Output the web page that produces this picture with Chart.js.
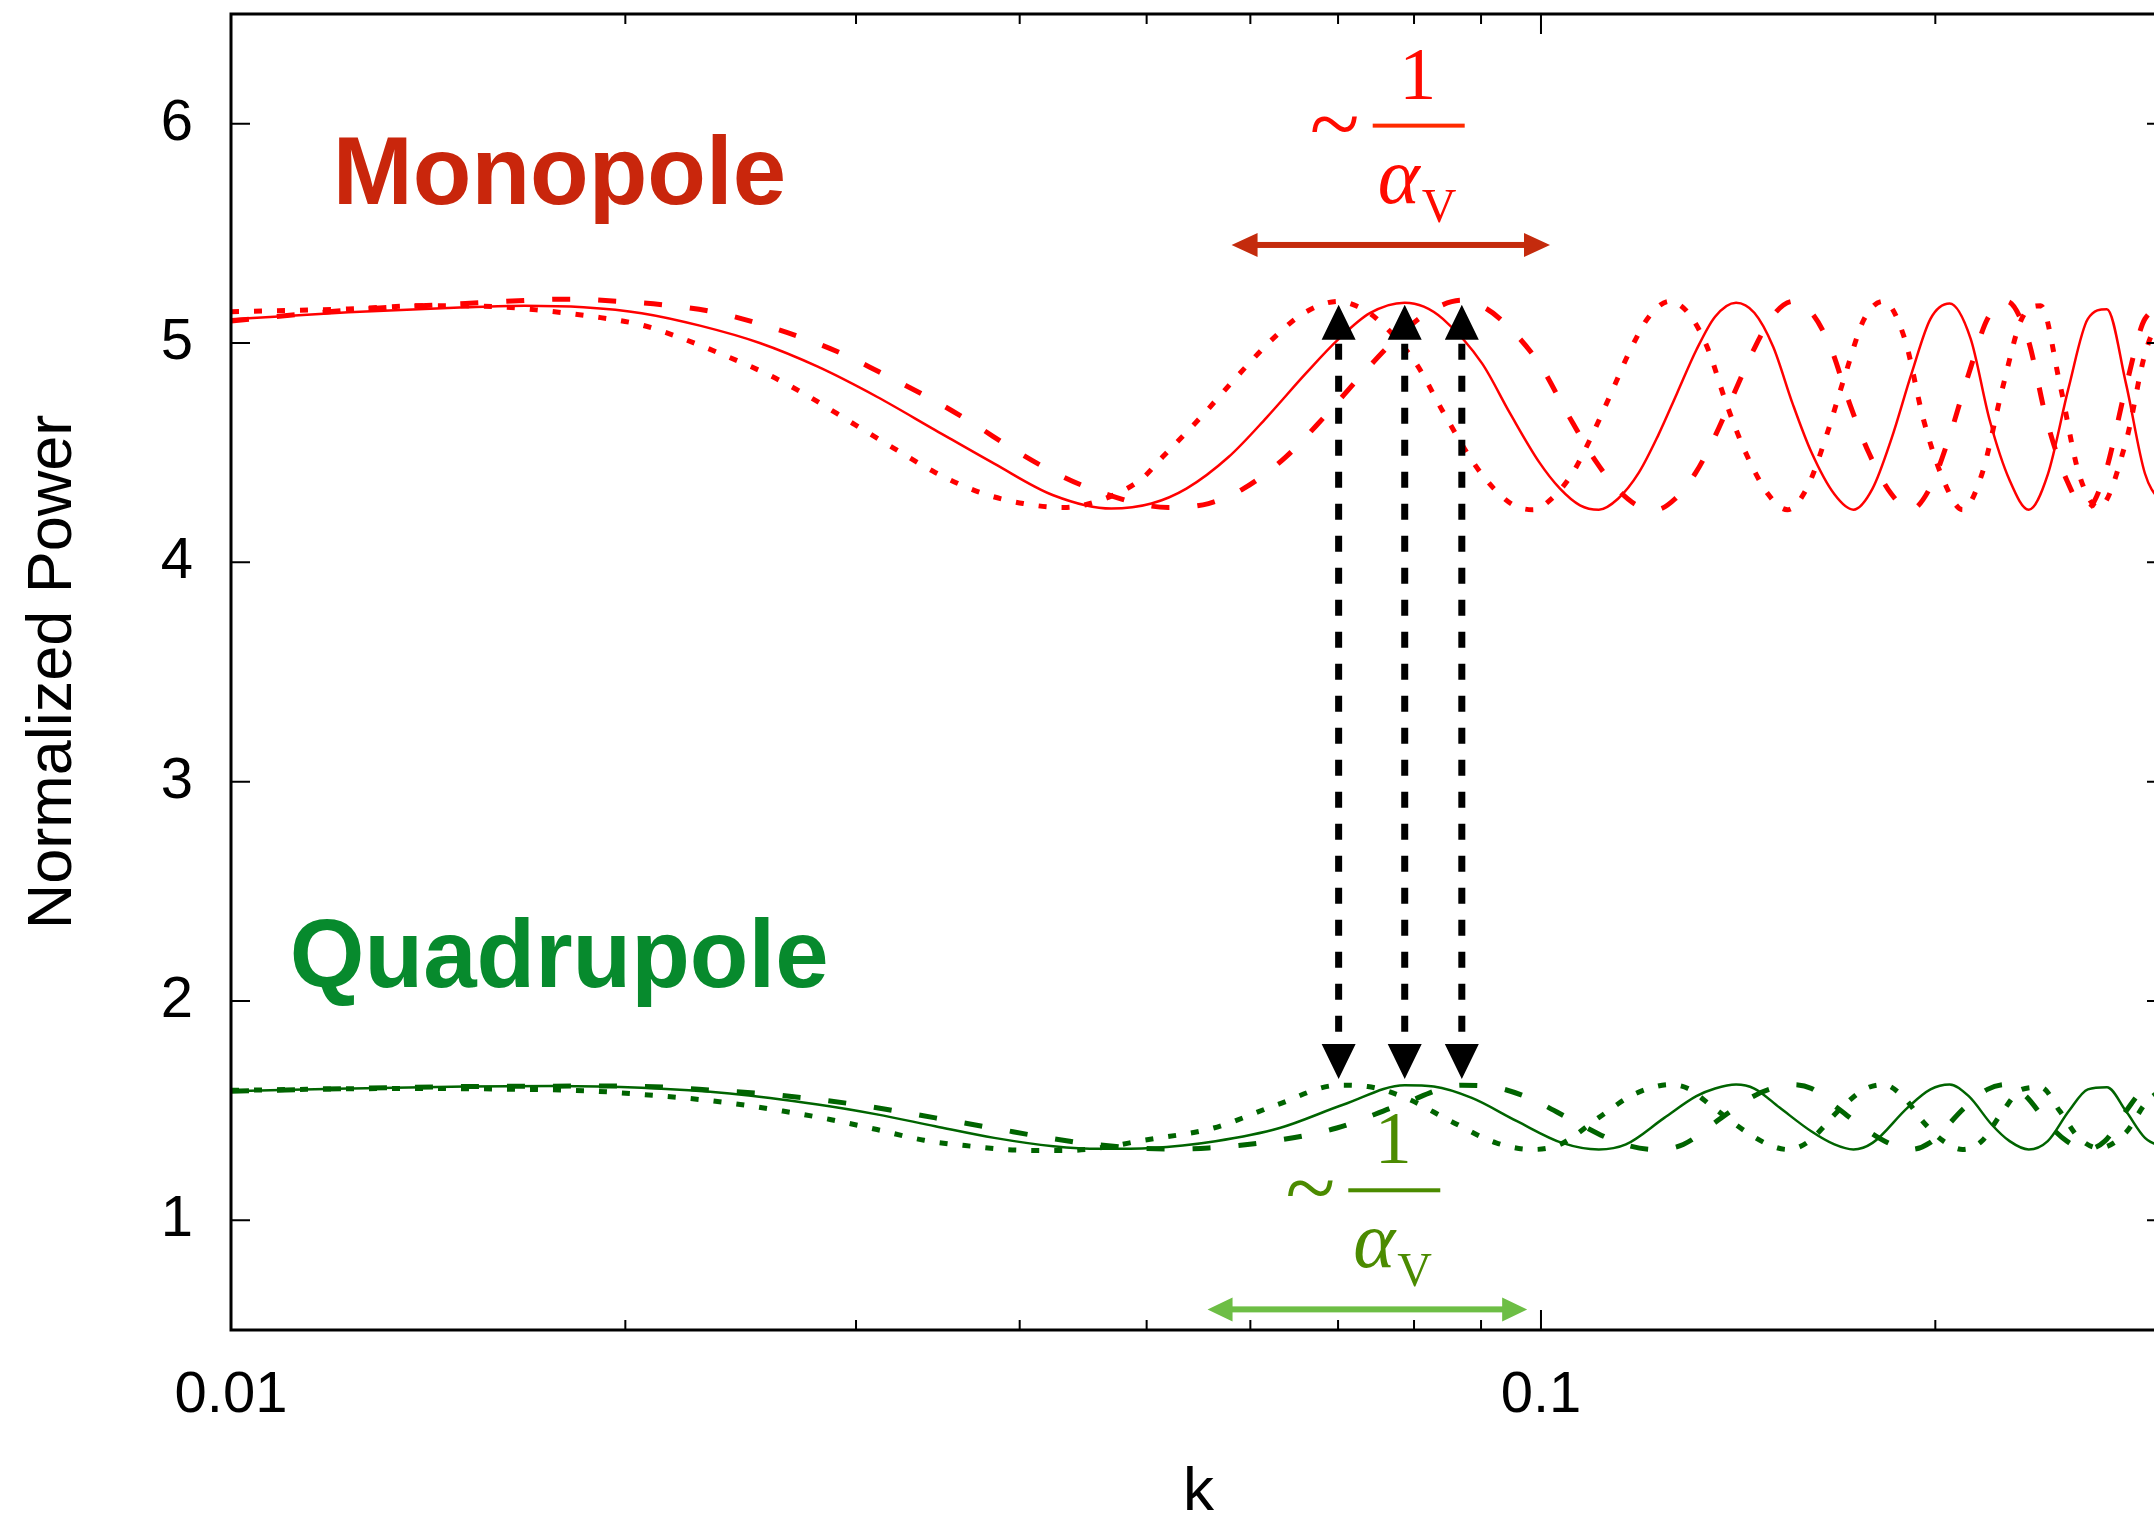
<!DOCTYPE html>
<html>
<head>
<meta charset="utf-8">
<title>Normalized power vs k</title>
<script src="https://cdn.jsdelivr.net/npm/chart.js"></script>
<style>
  html, body { margin: 0; padding: 0; background: #fff; overflow: hidden; }
  canvas { display: block; }
</style>
</head>
<body>
<canvas id="powerChart" width="2170" height="1515"></canvas>
<script>
// Monopole, three alpha_V cases (solid / dashed / dotted)
const kMono = [0.01, 0.01229, 0.0151, 0.01675, 0.01858, 0.02058, 0.02284, 0.02533, 0.02805, 0.03112, 0.03448, 0.03825, 0.04243, 0.04699, 0.05042, 0.05362, 0.05774, 0.06173, 0.06612, 0.06996, 0.07402, 0.0787, 0.08139, 0.08416, 0.09016, 0.09469, 0.09965, 0.1034, 0.1071, 0.1107, 0.1145, 0.1188, 0.1229, 0.127, 0.1314, 0.1358, 0.1409, 0.1455, 0.1504, 0.1556, 0.1608, 0.1675, 0.1732, 0.1791, 0.1852, 0.1918, 0.1983, 0.2051, 0.2128, 0.22, 0.2279, 0.2357, 0.2437, 0.2529, 0.2615, 0.2704, 0.2796, 0.2891, 0.2995];
const pMono = [5.108, 5.14, 5.163, 5.17, 5.163, 5.136, 5.078, 5.0, 4.892, 4.755, 4.603, 4.45, 4.306, 4.245, 4.268, 4.336, 4.48, 4.66, 4.86, 5.014, 5.136, 5.184, 5.166, 5.11, 4.907, 4.68, 4.458, 4.336, 4.26, 4.24, 4.29, 4.41, 4.58, 4.77, 4.968, 5.12, 5.184, 5.138, 4.983, 4.725, 4.504, 4.31, 4.24, 4.336, 4.565, 4.86, 5.11, 5.18, 5.02, 4.65, 4.374, 4.24, 4.4, 4.8, 5.11, 5.154, 4.816, 4.405, 4.25];

const kMonoDash = [0.01, 0.01229, 0.0151, 0.01819, 0.01976, 0.0217, 0.02357, 0.02533, 0.02747, 0.02969, 0.0319, 0.03448, 0.03692, 0.03969, 0.04266, 0.04609, 0.05195, 0.05574, 0.05928, 0.06384, 0.06825, 0.0731, 0.07735, 0.08184, 0.08701, 0.08999, 0.09305, 0.09968, 0.1047, 0.1102, 0.1143, 0.1184, 0.1224, 0.1266, 0.1313, 0.1359, 0.1404, 0.1453, 0.1501, 0.1558, 0.1609, 0.1663, 0.172, 0.1778, 0.1852, 0.1915, 0.198, 0.2048, 0.2121, 0.2192, 0.2268, 0.2353, 0.2432, 0.252, 0.2606, 0.2694, 0.2796, 0.2891, 0.299];
const pMonoDash = [5.10, 5.15, 5.18, 5.20, 5.19, 5.17, 5.137, 5.087, 5.018, 4.935, 4.84, 4.735, 4.63, 4.51, 4.405, 4.32, 4.25, 4.268, 4.336, 4.48, 4.66, 4.86, 5.014, 5.136, 5.195, 5.17, 5.11, 4.907, 4.68, 4.458, 4.336, 4.26, 4.24, 4.29, 4.41, 4.58, 4.77, 4.968, 5.12, 5.19, 5.138, 4.983, 4.725, 4.504, 4.31, 4.24, 4.336, 4.565, 4.86, 5.11, 5.19, 5.02, 4.65, 4.374, 4.24, 4.40, 4.80, 5.11, 5.16];

const kMonoDot = [0.01, 0.01229, 0.01405, 0.01591, 0.01729, 0.01894, 0.02058, 0.02212, 0.02378, 0.02583, 0.02776, 0.02984, 0.03207, 0.03448, 0.03725, 0.04025, 0.04326, 0.04609, 0.04955, 0.05141, 0.05496, 0.05887, 0.06229, 0.0659, 0.07007, 0.07246, 0.07493, 0.08027, 0.0843, 0.08872, 0.09206, 0.09535, 0.09856, 0.1019, 0.1058, 0.1094, 0.1131, 0.117, 0.1209, 0.1254, 0.1295, 0.1339, 0.1385, 0.1432, 0.1491, 0.1542, 0.1595, 0.1649, 0.1708, 0.1765, 0.1826, 0.1895, 0.1959, 0.2029, 0.2098, 0.217, 0.2252, 0.2328, 0.2407, 0.2489, 0.2574, 0.2666, 0.2796, 0.2891, 0.2995];
const pMonoDot = [5.143, 5.155, 5.17, 5.166, 5.148, 5.12, 5.082, 5.02, 4.945, 4.85, 4.748, 4.633, 4.52, 4.41, 4.32, 4.268, 4.25, 4.283, 4.38, 4.48, 4.66, 4.86, 5.014, 5.136, 5.19, 5.166, 5.11, 4.907, 4.68, 4.458, 4.336, 4.26, 4.24, 4.29, 4.41, 4.58, 4.77, 4.968, 5.12, 5.19, 5.138, 4.983, 4.725, 4.504, 4.31, 4.24, 4.336, 4.565, 4.86, 5.11, 5.19, 5.02, 4.65, 4.374, 4.24, 4.40, 4.80, 5.11, 5.17, 4.816, 4.405, 4.25, 4.55, 4.95, 5.17];

// Quadrupole, same three cases
const kQuad = [0.01, 0.01229, 0.0151, 0.01763, 0.02058, 0.02403, 0.02805, 0.03112, 0.03448, 0.03825, 0.04243, 0.04609, 0.05042, 0.05643, 0.06317, 0.0707, 0.0787, 0.08283, 0.08855, 0.09587, 0.1038, 0.1107, 0.1161, 0.1242, 0.1314, 0.1358, 0.1409, 0.1455, 0.1521, 0.1608, 0.1675, 0.1732, 0.1791, 0.1905, 0.1983, 0.2051, 0.2121, 0.2208, 0.2279, 0.2357, 0.2437, 0.2529, 0.2615, 0.2704, 0.2796, 0.2891, 0.2995];
const pQuad = [1.589, 1.601, 1.61, 1.612, 1.604, 1.578, 1.528, 1.483, 1.429, 1.376, 1.338, 1.326, 1.33, 1.361, 1.421, 1.528, 1.616, 1.61, 1.558, 1.452, 1.353, 1.323, 1.346, 1.467, 1.566, 1.601, 1.619, 1.601, 1.514, 1.406, 1.346, 1.323, 1.353, 1.514, 1.597, 1.619, 1.566, 1.437, 1.361, 1.323, 1.361, 1.498, 1.597, 1.607, 1.498, 1.376, 1.33];

const kQuadDash = [0.01, 0.0151, 0.01976, 0.02147, 0.02344, 0.02547, 0.02761, 0.03, 0.03258, 0.0354, 0.03845, 0.04176, 0.0456, 0.05195, 0.05574, 0.06239, 0.06984, 0.07817, 0.08701, 0.09158, 0.0979, 0.106, 0.1148, 0.1224, 0.1284, 0.1373, 0.1453, 0.1501, 0.1558, 0.1609, 0.1682, 0.1778, 0.1852, 0.1915, 0.198, 0.2106, 0.2192, 0.2268, 0.2345, 0.2441, 0.252, 0.2606, 0.2694, 0.2796, 0.2891, 0.299];
const pQuadDash = [1.589, 1.61, 1.612, 1.607, 1.592, 1.578, 1.556, 1.528, 1.493, 1.455, 1.417, 1.379, 1.346, 1.325, 1.33, 1.361, 1.421, 1.528, 1.616, 1.61, 1.558, 1.452, 1.353, 1.323, 1.346, 1.467, 1.566, 1.601, 1.619, 1.601, 1.514, 1.406, 1.346, 1.323, 1.353, 1.514, 1.597, 1.619, 1.566, 1.437, 1.361, 1.323, 1.361, 1.498, 1.597, 1.607];

const kQuadDot = [0.01, 0.01363, 0.01675, 0.01894, 0.02058, 0.02236, 0.02428, 0.02638, 0.02866, 0.03112, 0.03381, 0.03673, 0.03983, 0.04326, 0.04699, 0.04928, 0.05624, 0.06294, 0.07007, 0.07374, 0.07884, 0.08535, 0.09241, 0.09856, 0.1034, 0.1106, 0.117, 0.1209, 0.1254, 0.1295, 0.1354, 0.1432, 0.1491, 0.1542, 0.1595, 0.1696, 0.1765, 0.1826, 0.1888, 0.1966, 0.2029, 0.2098, 0.217, 0.2252, 0.2328, 0.2407, 0.2489, 0.2574, 0.2666, 0.2796, 0.2891, 0.2995];
const pQuadDot = [1.593, 1.601, 1.597, 1.589, 1.574, 1.556, 1.531, 1.498, 1.46, 1.414, 1.365, 1.338, 1.32, 1.318, 1.338, 1.361, 1.421, 1.528, 1.616, 1.61, 1.558, 1.452, 1.353, 1.323, 1.346, 1.467, 1.566, 1.601, 1.619, 1.601, 1.514, 1.406, 1.346, 1.323, 1.353, 1.514, 1.597, 1.619, 1.566, 1.437, 1.361, 1.323, 1.361, 1.498, 1.597, 1.607, 1.498, 1.376, 1.33, 1.40, 1.53, 1.61];

// axis ticks
const xTicks = [0.01, 0.02, 0.03, 0.04, 0.05, 0.06, 0.07, 0.08, 0.09, 0.1, 0.2, 0.3];
const xMajor = [0.01, 0.1];
const yTicks = [1, 2, 3, 4, 5, 6];

// first BAO peak of each case, and the 1/alpha_V spans
const peakK = [0.07007, 0.0787, 0.08701];
const peakTop = 5.174, peakBottom = 1.644;
const monoSpan = [0.05805, 0.1016], monoSpanY = 5.447;
const quadSpan = [0.05565, 0.0976], quadSpanY = 0.594;

const RED = '#ff0000';
const GREEN = '#006400';
const SOLID = { w: 2.5, dash: [] };
const DASHED = { w: 5, dash: [18, 28] };
const DOTTED = { w: 5, dash: [8, 15] };

function series(ks, vs, color, style) {
  return {
    data: ks.map((k, i) => ({ x: k, y: vs[i] })),
    borderColor: color,
    borderWidth: style.w,
    borderDash: style.dash,
    borderCapStyle: 'butt',
    pointRadius: 0,
    fill: false,
    cubicInterpolationMode: 'monotone'
  };
}

const SANS = '"Liberation Sans", Arial, Helvetica, sans-serif';
const SERIF = '"Liberation Serif", "Times New Roman", serif';

// keep the plot box fixed: no extra room for end labels
function noPadding(s) {
  s.paddingLeft = 0; s.paddingRight = 0;
  s.paddingTop = 0; s.paddingBottom = 0;
}

// gnuplot-style frame with inward ticks
const framePlugin = {
  id: 'frame',
  afterDatasetsDraw(chart) {
    const { ctx, chartArea: a, scales: { x, y } } = chart;
    ctx.save();
    ctx.strokeStyle = '#000';
    ctx.lineWidth = 2;
    ctx.beginPath();
    for (const k of xTicks) {
      const px = x.getPixelForValue(k);
      const len = xMajor.includes(k) ? 20 : 10;
      ctx.moveTo(px, a.bottom); ctx.lineTo(px, a.bottom - len);
      ctx.moveTo(px, a.top); ctx.lineTo(px, a.top + len);
    }
    for (const v of yTicks) {
      const py = y.getPixelForValue(v);
      ctx.moveTo(a.left, py); ctx.lineTo(a.left + 19, py);
      ctx.moveTo(a.right, py); ctx.lineTo(a.right - 19, py);
    }
    ctx.stroke();
    ctx.lineWidth = 3;
    ctx.strokeRect(a.left, a.top, a.right - a.left, a.bottom - a.top);
    ctx.restore();
  }
};

function hArrow(ctx, x1, x2, y, color, lw, len, half) {
  ctx.fillStyle = color;
  ctx.fillRect(x1 + len - 2, y - lw / 2, x2 - x1 - 2 * len + 4, lw);
  ctx.beginPath();
  ctx.moveTo(x1, y); ctx.lineTo(x1 + len, y - half); ctx.lineTo(x1 + len, y + half); ctx.closePath();
  ctx.moveTo(x2, y); ctx.lineTo(x2 - len, y - half); ctx.lineTo(x2 - len, y + half); ctx.closePath();
  ctx.fill();
}

function vArrow(ctx, x, yTop, yBot) {
  const head = 35, half = 17;
  ctx.fillStyle = '#000';
  ctx.beginPath();
  ctx.moveTo(x, yTop); ctx.lineTo(x - half, yTop + head); ctx.lineTo(x + half, yTop + head); ctx.closePath();
  ctx.moveTo(x, yBot); ctx.lineTo(x - half, yBot - head); ctx.lineTo(x + half, yBot - head); ctx.closePath();
  ctx.fill();
  ctx.strokeStyle = '#000';
  ctx.lineWidth = 7;
  ctx.setLineDash([16, 16]);
  ctx.beginPath();
  ctx.moveTo(x, yTop + head + 4); ctx.lineTo(x, yBot - head);
  ctx.stroke();
  ctx.setLineDash([]);
}

// "~ 1/alpha_V" centred on the fraction bar
function fraction(ctx, cx, cy, color, barColor) {
  ctx.fillStyle = color;
  ctx.textAlign = 'center';
  ctx.textBaseline = 'alphabetic';
  ctx.font = '74px ' + SERIF;
  ctx.fillText('1', cx - 1, cy - 27);
  ctx.fillStyle = barColor;
  ctx.fillRect(cx - 46, cy - 2, 92, 4);
  ctx.fillStyle = color;
  ctx.font = '92px ' + SERIF;
  ctx.textBaseline = 'middle';
  ctx.fillText('~', cx - 84, cy + 4);
  ctx.textAlign = 'left';
  ctx.textBaseline = 'alphabetic';
  ctx.font = 'italic 80px ' + SERIF;
  ctx.fillText('\u03b1', cx - 41, cy + 77);
  ctx.font = '48px ' + SERIF;
  ctx.fillText('V', cx + 3, cy + 96);
}

const notesPlugin = {
  id: 'notes',
  afterDraw(chart) {
    const { ctx, chartArea: a, scales: { x, y } } = chart;
    ctx.save();

    ctx.font = 'bold 96px ' + SANS;
    ctx.textAlign = 'left';
    ctx.textBaseline = 'alphabetic';
    ctx.fillStyle = '#c9260c';
    ctx.fillText('Monopole', x.getPixelForValue(0.01196), y.getPixelForValue(5.635));
    ctx.fillStyle = '#078a2d';
    ctx.fillText('Quadrupole', x.getPixelForValue(0.01109), y.getPixelForValue(2.064));

    for (const k of peakK) {
      vArrow(ctx, x.getPixelForValue(k), y.getPixelForValue(peakTop), y.getPixelForValue(peakBottom));
    }

    hArrow(ctx, x.getPixelForValue(monoSpan[0]), x.getPixelForValue(monoSpan[1]),
      y.getPixelForValue(monoSpanY), '#c42b0d', 6, 26, 12);
    hArrow(ctx, x.getPixelForValue(quadSpan[0]), x.getPixelForValue(quadSpan[1]),
      y.getPixelForValue(quadSpanY), '#6dbe45', 6, 25, 12);

    fraction(ctx, x.getPixelForValue(0.08066), y.getPixelForValue(5.991), '#ff0a00', '#ff2a00');
    fraction(ctx, x.getPixelForValue(0.07727), y.getPixelForValue(1.137), '#4b8b00', '#4b8b00');

    // axis titles
    ctx.fillStyle = '#000';
    ctx.font = '62px ' + SANS;
    ctx.textAlign = 'center';
    ctx.fillText('k', (a.left + a.right) / 2, 1510);
    ctx.translate(71, (a.top + a.bottom) / 2);
    ctx.rotate(-Math.PI / 2);
    ctx.font = '63px ' + SANS;
    ctx.fillText('Normalized Power', 0, 0);
    ctx.restore();
  }
};

Chart.defaults.font.family = SANS;
Chart.defaults.color = '#000';

new Chart(document.getElementById('powerChart').getContext('2d'), {
  type: 'line',
  data: {
    datasets: [
      series(kMono, pMono, RED, SOLID),
      series(kMonoDash, pMonoDash, RED, DASHED),
      series(kMonoDot, pMonoDot, RED, DOTTED),
      series(kQuad, pQuad, GREEN, SOLID),
      series(kQuadDash, pQuadDash, GREEN, DASHED),
      series(kQuadDot, pQuadDot, GREEN, DOTTED)
    ]
  },
  options: {
    responsive: false,
    animation: false,
    events: [],
    layout: { padding: { top: 14, right: 4, left: 0, bottom: 0 } },
    plugins: { legend: { display: false }, tooltip: { enabled: false } },
    scales: {
      x: {
        type: 'logarithmic',
        min: 0.01,
        max: 0.3,
        grid: { display: false, drawTicks: false },
        border: { display: false },
        afterBuildTicks: s => { s.ticks = xTicks.map(v => ({ value: v })); },
        afterFit: s => { s.height = 185; noPadding(s); },
        ticks: {
          autoSkip: false,
          maxRotation: 0,
          padding: 31,
          font: { size: 58 },
          callback: v => xMajor.includes(v) ? String(v) : ''
        }
      },
      y: {
        min: 0.5,
        max: 6.5,
        grid: { display: false, drawTicks: false },
        border: { display: false },
        afterBuildTicks: s => { s.ticks = yTicks.map(v => ({ value: v })); },
        afterFit: s => { s.width = 231; noPadding(s); },
        ticks: { padding: 38, font: { size: 58 } }
      }
    }
  },
  plugins: [framePlugin, notesPlugin]
});
</script>
</body>
</html>
